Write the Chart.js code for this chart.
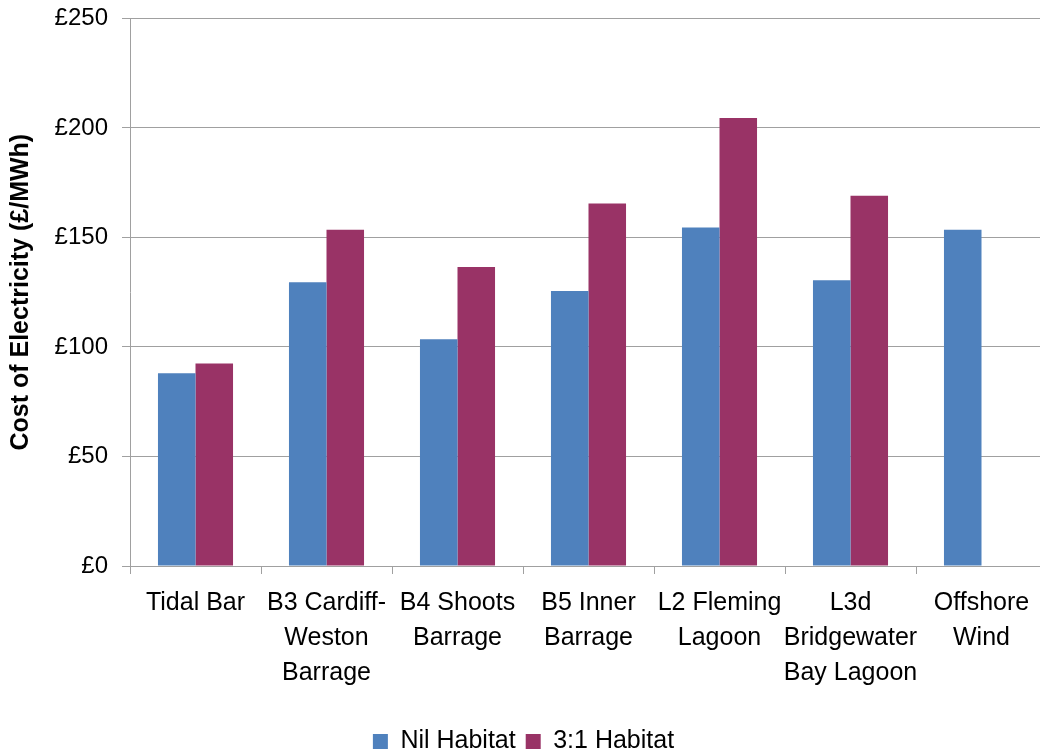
<!DOCTYPE html>
<html>
<head>
<meta charset="utf-8">
<script src="https://cdn.jsdelivr.net/npm/chart.js@4/dist/chart.umd.min.js"></script>
<style>
html,body{margin:0;padding:0;background:#fff;overflow:hidden;width:1040px;height:751px;}
#wrap{position:absolute;left:0;top:-10px;width:1060px;height:774px;}
</style>
</head>
<body>
<div id="wrap"><canvas id="c" width="1060" height="774"></canvas></div>
<script>
const categories = [
  ["Tidal Bar"],
  ["B3 Cardiff-", "Weston", "Barrage"],
  ["B4 Shoots", "Barrage"],
  ["B5 Inner", "Barrage"],
  ["L2 Fleming", "Lagoon"],
  ["L3d", "Bridgewater", "Bay Lagoon"],
  ["Offshore", "Wind"]
];
const nilHabitat = [88, 129.5, 103.5, 125.5, 154.5, 130.5, 153.5];
const habitat31 = [92.5, 153.5, 136.5, 165.5, 204.5, 169, null];
const seriesNames = ["Nil Habitat", "3:1 Habitat"];
const yTicks = [0, 50, 100, 150, 200, 250];

const FONT = "'Liberation Sans', Arial, sans-serif";
new Chart(document.getElementById('c'), {
  type: 'bar',
  data: {
    labels: categories,
    datasets: [
      {label: seriesNames[0], data: nilHabitat, backgroundColor: '#4F81BD', borderWidth: 0},
      {label: seriesNames[1], data: habitat31, backgroundColor: '#993366', borderWidth: 0}
    ]
  },
  options: {
    responsive: false,
    animation: false,
    devicePixelRatio: 1,
    layout: {padding: {left: 0, right: 13, top: 0, bottom: 0}},
    datasets: {bar: {barPercentage: 1.0, categoryPercentage: 0.573}},
    plugins: {
      tooltip: {enabled: false},
      legend: {
        position: 'bottom',
        labels: {
          font: {family: FONT, size: 25},
          color: '#000',
          boxWidth: 15,
          boxHeight: 15,
          padding: 10
        }
      }
    },
    scales: {
      x: {
        afterFit: (axis) => { axis.height = 153; },
        grid: {display: true, drawOnChartArea: false, drawTicks: true, tickLength: 8, color: '#A0A0A0', offset: true},
        border: {display: true, color: '#A0A0A0', width: 1},
        ticks: {font: {family: FONT, size: 25, lineHeight: 1.4}, color: '#000', maxRotation: 0, autoSkip: false, padding: 12}
      },
      y: {
        min: 0, max: 250,
        afterBuildTicks: (axis) => { axis.ticks = yTicks.map(v => ({value: v})); },
        afterFit: (axis) => { axis.width = 130; },
        grid: {color: '#A0A0A0', tickLength: 8, lineWidth: 1},
        border: {display: true, color: '#A0A0A0', width: 1},
        ticks: {font: {family: FONT, size: 24}, color: '#000', padding: 14, callback: v => '£' + v},
        title: {display: true, text: 'Cost of Electricity (£/MWh)', font: {family: FONT, size: 25, weight: 'bold'}, color: '#000', padding: {top: 6, bottom: 0}}
      }
    }
  }
});
</script>
</body>
</html>
